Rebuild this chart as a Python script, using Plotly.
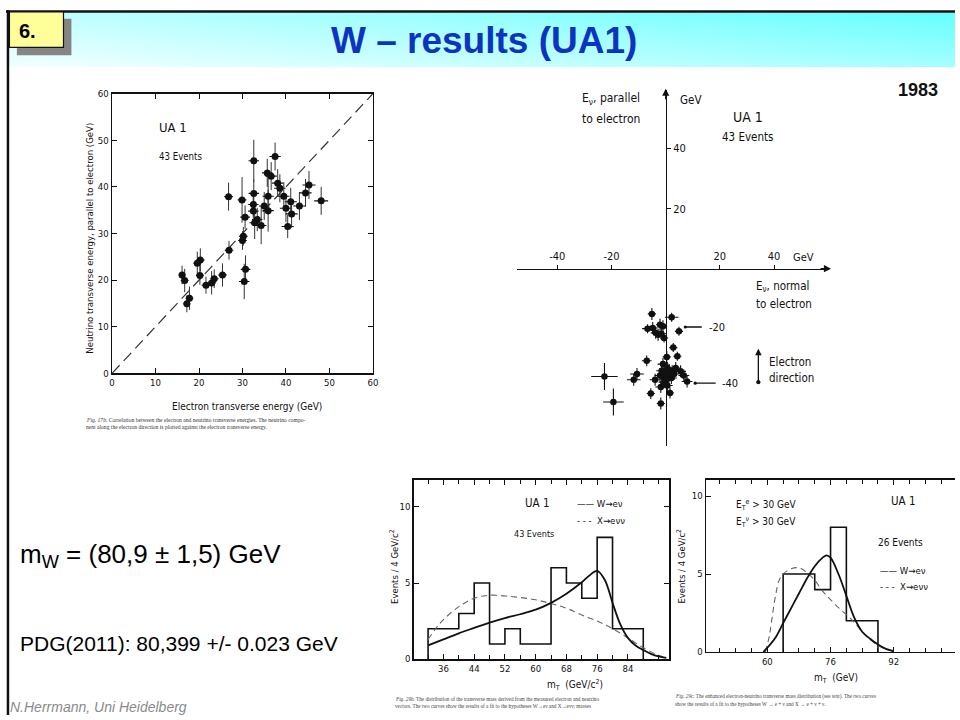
import plotly.graph_objects as go

W, H = 960, 720
def px(x): return x / W
def py(y): return 1 - y / H

SCAN = "Liberation Sans Narrow, DejaVu Sans Condensed, DejaVu Sans, sans-serif"
SERIF = "Liberation Serif, DejaVu Serif, serif"
ARIAL = "Liberation Sans, Arial, sans-serif"
INK = "#111111"

# ---------------- Plot 1: neutrino vs electron transverse energy ----------------
p1_ele = [16.1, 16.7, 17.2, 17.8, 19.6, 20.3, 20.2, 21.6, 22.9, 23.5, 25.4, 26.8, 26.9,
          29.9, 30.0, 30.2, 30.4, 30.6, 30.7, 32.6, 32.6, 32.5, 32.5, 32.8, 33.4, 34.3,
          35.0, 35.7, 35.9, 35.9, 36.6, 37.5, 38.1, 38.6, 39.5, 40.0, 40.4, 41.1, 41.3,
          43.1, 44.5, 45.3, 48.1]
p1_nu = [21.1, 19.9, 14.9, 16.1, 23.6, 24.3, 21.0, 18.9, 19.4, 20.3, 21.1, 37.9, 26.4,
         37.2, 28.5, 29.4, 19.7, 33.5, 22.3, 45.6, 38.6, 36.2, 34.8, 32.3, 33.0, 31.7,
         35.9, 43.0, 38.0, 34.9, 42.3, 46.5, 40.8, 39.7, 38.0, 35.4, 31.5, 36.8, 34.2,
         35.9, 38.7, 40.4, 37.0]
p1_ele_err = [0.8, 0.9, 0.8, 0.9, 0.9, 1.0, 0.9, 1.0, 1.0, 1.0, 1.0, 1.0, 1.0,
              1.0, 1.0, 1.0, 1.2, 1.1, 1.1, 1.2, 1.2, 1.2, 1.2, 1.2, 1.2, 1.2,
              1.2, 1.2, 1.3, 1.3, 1.3, 1.3, 1.3, 1.3, 1.3, 1.4, 1.4, 1.4, 1.4,
              1.4, 1.4, 1.5, 1.6]
p1_nu_err = [2.0, 2.5, 1.8, 2.5, 2.5, 2.5, 2.0, 1.8, 2.5, 2.0, 2.5, 3.0, 2.0,
             4.9, 2.0, 2.0, 3.8, 2.5, 3.0, 4.5, 3.0, 2.5, 3.0, 3.5, 2.5, 4.0,
             3.0, 3.0, 4.0, 4.5, 3.0, 3.0, 3.0, 3.0, 3.0, 3.0, 2.5, 3.0, 3.0,
             3.0, 3.0, 3.0, 3.0]
p1_diag = [0, 60]
p1_ticks = [0, 10, 20, 30, 40, 50, 60]

# ---------------- Plot 2: neutrino components relative to electron ----------------
p2_normal = [-5.1, 2.2, -6.7, -4.8, -2.1, -1.0, -1.6, -3.7, -0.6, 4.9, 2.8, 4.3, 0.4,
             -7.0, -1.0, 0.6, -1.5, 0.0, 1.3, 2.4, 3.7, 5.5, 6.7, 7.9, -22.6, -10.6,
             -11.8, -3.9, -0.9, 0.4, 2.1, -1.8, 0.6, -5.5, 1.6, -19.3, -1.8, -0.4,
             1.2, -2.1, 3.1, -0.6, -2.8]
p2_parallel = [-15.0, -16.1, -19.9, -19.7, -18.6, -19.1, -21.6, -21.3, -23.0, -20.8,
               -26.2, -29.1, -29.3, -30.6, -31.7, -33.0, -33.9, -34.4, -33.7, -34.1,
               -33.0, -34.1, -35.5, -37.5, -35.8, -35.0, -36.9, -36.9, -36.1, -36.7,
               -36.3, -39.3, -38.8, -41.5, -41.3, -44.3, -44.8, -35.0, -35.5, -35.5,
               -35.0, -37.7, -21.9]
p2_normal_err = [1.5, 2.5, 2.0, 1.8, 1.5, 1.5, 1.8, 1.8, 1.5, 1.5, 1.5, 1.5, 1.5,
                 1.8, 2.0, 2.0, 2.0, 2.0, 2.0, 2.0, 2.0, 2.0, 2.0, 2.0, 4.9, 2.5,
                 2.5, 2.0, 2.0, 2.0, 2.0, 2.0, 2.0, 1.5, 1.5, 3.8, 1.5, 2.0,
                 2.0, 2.0, 2.0, 2.0, 1.8]
p2_parallel_err = [2.0, 1.5, 1.5, 2.0, 2.0, 2.0, 2.0, 2.0, 1.5, 1.5, 1.5, 1.5, 2.0,
                   1.8, 2.0, 2.0, 2.0, 2.5, 2.0, 2.0, 2.0, 2.0, 2.0, 2.0, 4.5, 2.0,
                   2.0, 2.0, 2.0, 2.0, 2.0, 2.0, 2.0, 1.8, 1.8, 4.5, 2.0, 2.0,
                   2.0, 2.0, 2.0, 2.0, 2.0]
p2_xticks = [-40, -20, 20, 40]
p2_xticklabels = ["-40", "-20", "20", "40"]
p2_yticks = [20, 40]
p2_yticklabels = ["20", "40"]

# ---------------- Plot 3: transverse mass, 43 events ----------------
p3_edges = [32, 36, 40, 44, 48, 52, 56, 60, 64, 68, 72, 76, 80, 84, 88]
p3_counts = [2, 2, 3, 5, 1, 2, 1, 1, 6, 5, 4, 8, 2, 2]
p3_w_m = [32, 36, 40, 44, 48, 52, 56, 60, 64, 68, 72, 74, 76, 78, 80, 82, 84, 86, 88, 90, 92, 94]
p3_w_y = [0.9, 1.3, 1.7, 2.05, 2.4, 2.7, 2.95, 3.25, 3.7, 4.3, 5.05, 5.5, 5.8, 5.2, 3.7,
          2.3, 1.4, 0.9, 0.6, 0.35, 0.18, 0.08]
p3_x_m = [32, 34, 36, 40, 44, 48, 52, 56, 60, 64, 68, 72, 76, 80, 84, 88, 92, 94]
p3_x_y = [1.3, 2.0, 2.6, 3.45, 4.0, 4.2, 4.15, 4.05, 3.9, 3.65, 3.35, 2.9, 2.5, 2.0, 1.4,
          0.75, 0.25, 0.08]
p3_xticks = [36, 44, 52, 60, 68, 76, 84]
p3_xminor = [32, 40, 48, 56, 64, 72, 80, 88, 92]
p3_yticks = [0, 5, 10]

# ---------------- Plot 4: transverse mass, 26 events ----------------
p4_edges = [64, 68, 72, 76, 80, 84, 88]
p4_counts = [5, 5, 4, 8, 2, 2]
p4_w_m = [59, 62, 64, 66, 68, 70, 72, 74, 75, 76, 78, 80, 82, 84, 86, 88, 90, 92]
p4_w_y = [0.0, 0.9, 1.85, 2.8, 3.75, 4.7, 5.5, 6.05, 6.2, 6.05, 5.0, 3.6, 2.2, 1.3, 0.85,
          0.48, 0.2, 0.05]
p4_x_m = [59.5, 60.5, 61, 62, 63, 64, 66, 68, 70, 72, 74, 76, 78, 80, 82, 84, 86, 88, 90, 92]
p4_x_y = [0.0, 1.0, 1.85, 3.5, 4.6, 5.0, 5.33, 5.4, 5.1, 4.6, 3.9, 3.35, 2.85, 2.4, 1.9,
          1.3, 0.8, 0.42, 0.18, 0.05]
p4_xticks = [60, 76, 92]
p4_xminor = [48, 52, 56, 64, 68, 72, 80, 84, 88, 96, 100, 104]
p4_yticks = [0, 5, 10]


def step_xy(edges, counts):
    xs = [edges[0]] + edges[:-1] + [edges[-1]]
    ys = [0] + counts + [0]
    return xs, ys


fig = go.Figure()

# header gradient
fig.add_trace(go.Heatmap(z=[[0.0, 0.55], [0.35, 1.0]], x=[0, 1], y=[0, 1], zsmooth="best",
                         showscale=False, colorscale=[[0, "#f4ffff"], [1, "#66ffff"]],
                         xaxis="x", yaxis="y", hoverinfo="skip"))

# plot 1
fig.add_trace(go.Scatter(x=p1_diag, y=p1_diag, mode="lines", xaxis="x2", yaxis="y2",
                         line=dict(color="#333", width=1.2, dash="11px,6px")))
fig.add_trace(go.Scatter(x=p1_ele, y=p1_nu, mode="markers", xaxis="x2", yaxis="y2",
                         marker=dict(color=INK, size=7),
                         error_x=dict(type="data", array=p1_ele_err, thickness=1.1, width=0, color=INK),
                         error_y=dict(type="data", array=p1_nu_err, thickness=1, width=0, color="#333")))

# plot 2
fig.add_trace(go.Scatter(x=p2_normal, y=p2_parallel, mode="markers", xaxis="x3", yaxis="y3",
                         marker=dict(color=INK, size=6.5),
                         error_x=dict(type="data", array=p2_normal_err, thickness=1.1, width=0, color=INK),
                         error_y=dict(type="data", array=p2_parallel_err, thickness=1.1, width=0, color=INK)))

# plot 3
hx, hy = step_xy(p3_edges, p3_counts)
fig.add_trace(go.Scatter(x=hx, y=hy, mode="lines", line_shape="hv", xaxis="x4", yaxis="y4",
                         line=dict(color=INK, width=1.6)))
fig.add_trace(go.Scatter(x=p3_x_m, y=p3_x_y, mode="lines", line_shape="spline", xaxis="x4", yaxis="y4",
                         line=dict(color="#666", width=1.1, dash="6px,4px")))
fig.add_trace(go.Scatter(x=p3_w_m, y=p3_w_y, mode="lines", line_shape="spline", xaxis="x4", yaxis="y4",
                         line=dict(color=INK, width=1.8)))

# plot 4
hx, hy = step_xy(p4_edges, p4_counts)
fig.add_trace(go.Scatter(x=hx, y=hy, mode="lines", line_shape="hv", xaxis="x5", yaxis="y5",
                         line=dict(color=INK, width=1.6)))
fig.add_trace(go.Scatter(x=p4_x_m, y=p4_x_y, mode="lines", line_shape="spline", xaxis="x5", yaxis="y5",
                         line=dict(color="#666", width=1.1, dash="6px,4px")))
fig.add_trace(go.Scatter(x=p4_w_m, y=p4_w_y, mode="lines", line_shape="spline", xaxis="x5", yaxis="y5",
                         line=dict(color=INK, width=1.8)))

frame = dict(showline=True, linecolor=INK, linewidth=1.5, mirror="ticks", ticks="inside",
             ticklen=5, tickwidth=1, tickcolor=INK, showgrid=False, zeroline=False,
             tickfont=dict(family=SCAN, size=9.5, color=INK), fixedrange=True)
minor_style = dict(ticks="inside", ticklen=4, tickwidth=1, tickcolor=INK, showgrid=False)

# plot 2 geometry
p2_xdom = [px(518), px(833)]
p2_ydom = [py(447), py(85)]
p2_xr = [-55, 60.3]
p2_yr = [-59, 59.6]
p2_xpos = p2_ydom[0] + (0 - p2_yr[0]) / (p2_yr[1] - p2_yr[0]) * (p2_ydom[1] - p2_ydom[0])
p2_ypos = p2_xdom[0] + (0 - p2_xr[0]) / (p2_xr[1] - p2_xr[0]) * (p2_xdom[1] - p2_xdom[0])

fig.update_layout(
    width=W, height=H, margin=dict(l=0, r=0, t=0, b=0),
    paper_bgcolor="white", plot_bgcolor="rgba(0,0,0,0)", showlegend=False,
    xaxis=dict(domain=[px(5), 1], range=[0, 1], visible=False, fixedrange=True),
    yaxis=dict(domain=[py(62), py(6.5)], range=[0, 1], visible=False, fixedrange=True),
    xaxis2=dict(frame, domain=[px(110), px(373)], range=[0, 60], anchor="y2",
                tickvals=p1_ticks),
    yaxis2=dict(frame, domain=[py(373), py(89)], range=[0, 60], anchor="x2",
                tickvals=p1_ticks),
    xaxis3=dict(domain=p2_xdom, range=p2_xr, anchor="free", position=p2_xpos, side="top",
                showline=True, linecolor=INK, linewidth=1.4, ticks="outside", ticklen=4,
                tickcolor=INK, tickvals=p2_xticks, ticktext=p2_xticklabels, showgrid=False,
                zeroline=False, tickfont=dict(family=SCAN, size=11, color=INK)),
    yaxis3=dict(domain=p2_ydom, range=p2_yr, anchor="free", position=p2_ypos, side="right",
                showline=True, linecolor=INK, linewidth=1.4, ticks="outside", ticklen=4,
                tickcolor=INK, tickvals=p2_yticks, ticktext=p2_yticklabels, showgrid=False,
                zeroline=False, tickfont=dict(family=SCAN, size=11, color=INK)),
    xaxis4=dict(frame, domain=[px(414.3), px(672)], range=[28.3, 94.8], anchor="y4",
                tickvals=p3_xticks, minor=dict(minor_style, tickvals=p3_xminor)),
    yaxis4=dict(frame, domain=[py(663.3), py(481)], range=[0, 11.79], anchor="x4",
                tickvals=p3_yticks),
    xaxis5=dict(frame, domain=[px(709), 1.0], range=[44.5, 107.5], anchor="y5",
                tickvals=p4_xticks, minor=dict(minor_style, tickvals=p4_xminor)),
    yaxis5=dict(frame, domain=[py(656), py(481)], range=[0, 11.05], anchor="x5",
                tickvals=p4_yticks, mirror=False),
)

shapes = []
# slide frame lines
shapes.append(dict(type="line", xref="paper", yref="paper", x0=px(3), x1=1, y0=py(5.5), y1=py(5.5),
                   line=dict(color="#111", width=2.5)))
shapes.append(dict(type="line", xref="paper", yref="paper", x0=px(5), x1=px(5), y0=py(4), y1=0,
                   line=dict(color="#111", width=2.5)))
# number box with shadow
shapes.append(dict(type="rect", xref="paper", yref="paper", x0=px(14), x1=px(69), y0=py(50), y1=py(13),
                   fillcolor="#858585", line=dict(width=0)))
shapes.append(dict(type="rect", xref="paper", yref="paper", x0=px(6.5), x1=px(61), y0=py(42), y1=py(6),
                   fillcolor="#ffff99", line=dict(color="#111", width=1.2)))
fig.update_layout(shapes=shapes)

ann = []
def text(t, x, y, size, family=SCAN, color=INK, xanchor="left", angle=0, **kw):
    ann.append(dict(text=t, x=px(x), y=py(y), xref="paper", yref="paper", showarrow=False,
                    xanchor=xanchor, yanchor="middle", textangle=angle,
                    font=dict(family=family, size=size, color=color), **kw))

# header
text("<b>6.</b>", 25, 25, 20, family=ARIAL, color="#000", xanchor="center")
text("<b>W – results (UA1)</b>", 485, 35, 37, family=ARIAL, color="#0d34c0", xanchor="center")
text("<b>1983</b>", 923, 85, 18, family=ARIAL, color="#111", xanchor="center")

# left text
text("m<sub>W</sub> = (80,9 ± 1,5) GeV", 15, 558, 26, family=ARIAL, color="#000")
text("PDG(2011): 80,399 +/- 0.023 GeV", 15, 647, 21, family=ARIAL, color="#000")
text("<i>N.Herrmann, Uni Heidelberg</i>", 5, 712, 14, family=ARIAL, color="#8a8a8a")

# plot 1 texts
text("UA 1", 155, 123, 13)
text("43 Events", 155, 153, 9.6)
text("Electron transverse energy (GeV)", 246, 407, 10, xanchor="center")
text("Neutrino transverse energy, parallel to electron (GeV)", 87, 236, 9.5, xanchor="center", angle=-90)
text("<i>Fig. 17b.</i> Correlation between the electron and neutrino transverse energies. The neutrino compo-",
     82, 420, 5.6, family=SERIF, color="#333")
text("nent along the electron direction is plotted against the electron transverse energy.",
     82, 428, 5.6, family=SERIF, color="#333")

# plot 2 texts
text("E<sub>ν</sub>, parallel", 582, 94, 12)
text("to electron", 582, 115, 12)
text("GeV", 681, 95, 11.5)
text("UA 1", 751, 113, 14, xanchor="center")
text("43 Events", 751, 133, 11.5, xanchor="center")
text("GeV", 795, 255, 11)
text("E<sub>ν</sub>, normal", 757, 285, 11.5)
text("to electron", 757, 303, 11.5)
text("-20", 710, 326, 11)
text("-40", 723, 383, 11)
text("Electron", 770, 362, 11.5)
text("direction", 770, 378, 11.5)

# plot 3 texts
text("Events / 4 GeV/c<sup>2</sup>", 395, 569, 9.5, xanchor="center", angle=-90)
text("UA 1", 539, 505, 11.5, xanchor="center")
text("—— W→eν", 577, 505, 9.5)
text("- - -  X→eνν", 577, 522, 9.5)
text("43 Events", 513, 536, 9)
text("m<sub>T</sub>  (GeV/c<sup>2</sup>)", 577, 690, 10, xanchor="center")
text("<i>Fig. 29b.</i> The distribution of the transverse mass derived from the measured electron and neutrino",
     393, 704, 5.2, family=SERIF, color="#444")
text("vectors. The two curves show the results of a fit to the hypotheses W→eν and X→eνν; masses",
     393, 711, 5.2, family=SERIF, color="#444")

# plot 4 texts
text("Events / 4 GeV/c<sup>2</sup>", 684, 569, 9.5, xanchor="center", angle=-90)
text("E<sub>T</sub><sup>e</sup> > 30 GeV", 737, 507, 10)
text("E<sub>T</sub><sup>ν</sup> > 30 GeV", 737, 524, 10)
text("UA 1", 893, 503, 11.5)
text("26 Events", 880, 545, 10)
text("—— W→eν", 882, 573, 9.5)
text("- - -  X→eνν", 882, 589, 9.5)
text("m<sub>T</sub>  (GeV)", 840, 683, 10, xanchor="center")
text("<i>Fig. 29c.</i> The enhanced electron-neutrino transverse mass distribution (see text). The two curves",
     676, 701, 5.2, family=SERIF, color="#444")
text("show the results of a fit to the hypotheses W → e + ν and X → e + ν + ν.",
     676, 709, 5.2, family=SERIF, color="#444")

# arrows (axis ends, leaders, electron direction)
def arrow(x, y, ax, ay, head=2, size=1, **kw):
    ann.append(dict(x=px(x), y=py(y), xref="paper", yref="paper", ax=ax, ay=ay,
                    showarrow=True, arrowhead=head, arrowsize=size, arrowwidth=1.3,
                    arrowcolor=INK, text="", **kw))

arrow(835, 266.7, -12, 0, head=2, size=1.1)
arrow(668.3, 84, 0, 12, head=2, size=1.1)
arrow(688, 326, 18, 0, head=6, size=0.6)
arrow(698, 383, 22, 0, head=6, size=0.6)
arrow(761.7, 348, 0, 35, head=2, size=1, arrowside="end+start", startarrowhead=6, startarrowsize=0.8)

fig.update_layout(annotations=ann)
fig.write_html("out.html", config={"displayModeBar": False, "staticPlot": True},
               post_script="document.body.style.margin='0px';document.body.style.overflow='hidden';")
